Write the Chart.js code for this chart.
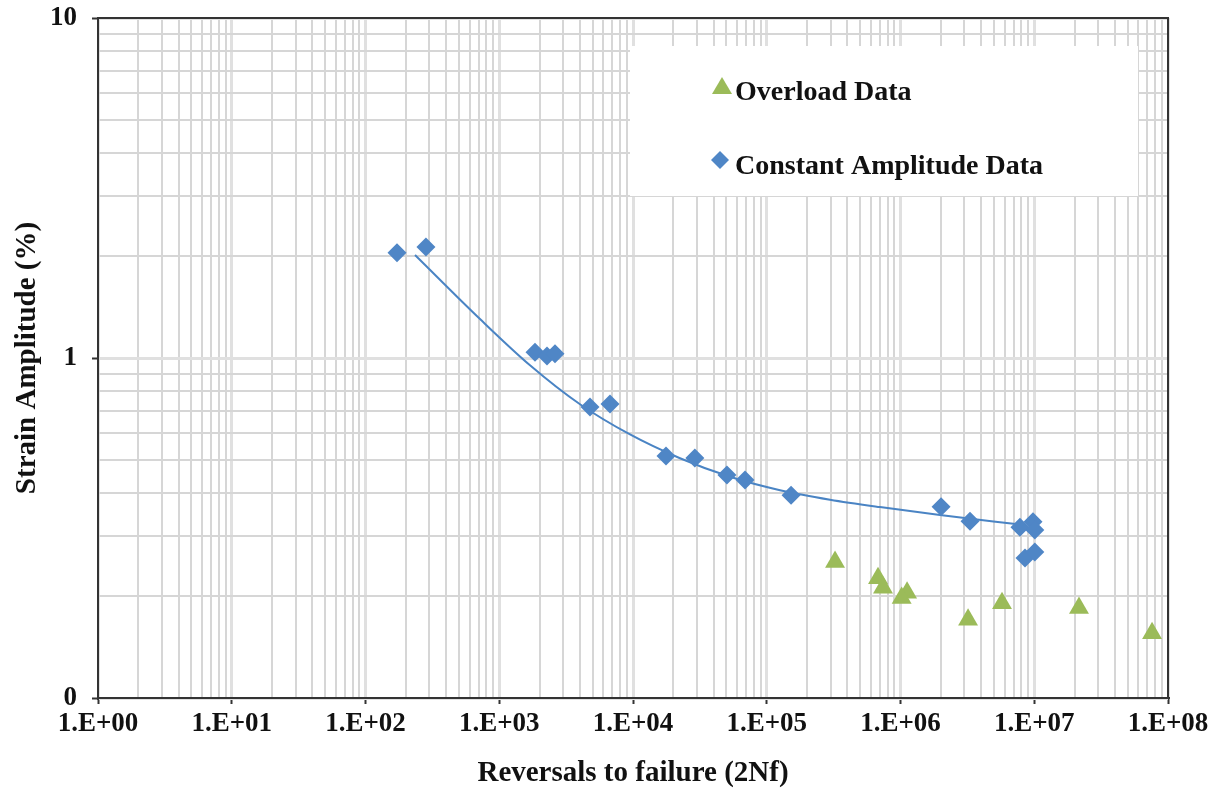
<!DOCTYPE html>
<html>
<head>
<meta charset="utf-8">
<script src="https://cdn.jsdelivr.net/npm/chart.js@4/dist/chart.umd.min.js"></script>
<style>
  html, body { margin: 0; padding: 0; background: #fff; }
  #wrap { width: 1224px; height: 795px; position: relative; }
</style>
</head>
<body>
<div id="wrap"><canvas id="c" width="1224" height="795"></canvas></div>
<script>
// ---- Data ----
const constantN = [172, 283, 1850, 2275, 2610, 4770, 6730, 17650, 29000, 50400, 68800, 152000, 2010000, 3310000, 7820000, 9790000, 10100000, 8530000, 10100000];
const constantS = [2.04, 2.12, 1.04, 1.014, 1.03, 0.718, 0.732, 0.515, 0.508, 0.453, 0.438, 0.395, 0.365, 0.331, 0.318, 0.330, 0.312, 0.258, 0.269];

const overloadN = [324000, 679000, 740000, 1120000, 1020000, 3200000, 5740000, 21600000, 76000000];
const overloadS = [0.251, 0.225, 0.211, 0.204, 0.197, 0.170, 0.190, 0.184, 0.155];

const trendN = [234.5, 718, 1698, 4015, 9497, 22460, 53120, 125700, 297100, 702600, 1974000, 7826000];
const trendS = [2.009, 1.302, 0.952, 0.731, 0.5957, 0.5072, 0.4473, 0.4084, 0.3830, 0.3643, 0.3455, 0.3237];

const xTickValues = [1, 10, 100, 1000, 10000, 100000, 1000000, 10000000, 100000000];
const xTickLabels = ['1.E+00', '1.E+01', '1.E+02', '1.E+03', '1.E+04', '1.E+05', '1.E+06', '1.E+07', '1.E+08'];
const yTickValues = [0.1, 1, 10];
const yTickLabels = ['0', '1', '10'];

const seriesNames = ['Overload Data', 'Constant Amplitude Data'];
const xTitle = 'Reversals to failure (2Nf)';
const yTitle = 'Strain Amplitude (%)';

// ---- Helpers ----
const BLUE = '#4F86C6';
const GREEN = '#9BBB59';
const FONT = '"Liberation Serif", "Times New Roman", serif';

function pairs(xs, ys) { return xs.map((x, i) => ({ x: x, y: ys[i] })); }
function logGridTicks(values) {
  const out = [];
  for (let i = 0; i < values.length - 1; i++) {
    for (let m = 1; m < 10; m++) out.push(Number((m * values[i]).toPrecision(12)));
  }
  out.push(values[values.length - 1]);
  return out.map(v => ({ value: v }));
}
function isDecade(v) {
  const l = Math.log10(v);
  return Math.abs(l - Math.round(l)) < 1e-9;
}
function labelFor(values, labels, v) {
  for (let i = 0; i < values.length; i++) {
    if (Math.abs(values[i] - v) / values[i] < 1e-9) return labels[i];
  }
  return '';
}
function gridOpts() {
  return {
    color: ctx => (ctx.tick && isDecade(ctx.tick.value)) ? '#e0e0e0' : '#d6d6d6',
    lineWidth: ctx => (ctx.tick && isDecade(ctx.tick.value)) ? 3 : 2,
    tickColor: ctx => (ctx.tick && isDecade(ctx.tick.value)) ? '#333' : 'rgba(0,0,0,0)',
    tickWidth: 2,
    tickLength: 6,
    drawTicks: true
  };
}

// ---- Plugins ----
const framePlugin = {
  id: 'frame',
  afterDatasetsDraw(chart) {
    const { ctx, chartArea: a } = chart;
    ctx.save();
    ctx.strokeStyle = '#333';
    ctx.lineWidth = 2;
    ctx.beginPath();
    ctx.moveTo(a.left, a.top);
    ctx.lineTo(a.right, a.top);
    ctx.lineTo(a.right, a.bottom);
    ctx.stroke();
    ctx.restore();
  }
};

const legendPlugin = {
  id: 'boxLegend',
  beforeDatasetsDraw(chart) {
    const ctx = chart.ctx;
    ctx.save();
    ctx.fillStyle = '#ffffff';
    ctx.fillRect(630, 46, 508, 150);
    // triangle marker
    ctx.fillStyle = GREEN;
    ctx.beginPath();
    ctx.moveTo(722, 77);
    ctx.lineTo(732, 94);
    ctx.lineTo(712, 94);
    ctx.closePath();
    ctx.fill();
    // diamond marker
    ctx.fillStyle = BLUE;
    ctx.beginPath();
    ctx.moveTo(720, 151);
    ctx.lineTo(729, 160);
    ctx.lineTo(720, 169);
    ctx.lineTo(711, 160);
    ctx.closePath();
    ctx.fill();
    ctx.fillStyle = '#111';
    ctx.font = 'bold 28px ' + FONT;
    ctx.textAlign = 'left';
    ctx.textBaseline = 'middle';
    ctx.fillText(seriesNames[0], 735, 93);
    ctx.fillText(seriesNames[1], 735, 167);
    ctx.restore();
  }
};

Chart.defaults.font.family = FONT;
Chart.defaults.font.weight = 'bold';
Chart.defaults.color = '#111';

new Chart(document.getElementById('c'), {
  type: 'scatter',
  data: {
    datasets: [
      {
        label: seriesNames[0],
        data: pairs(overloadN, overloadS),
        pointStyle: 'triangle',
        pointRadius: 11.5,
        pointHoverRadius: 11.5,
        backgroundColor: GREEN,
        borderColor: GREEN,
        borderWidth: 0
      },
      {
        label: seriesNames[1],
        data: pairs(constantN, constantS),
        pointStyle: 'rectRot',
        pointRadius: 9.5,
        pointHoverRadius: 9.5,
        backgroundColor: BLUE,
        borderColor: BLUE,
        borderWidth: 0
      },
      {
        label: 'Trend',
        data: pairs(trendN, trendS),
        showLine: true,
        pointRadius: 0,
        pointHoverRadius: 0,
        borderColor: '#4A84C4',
        borderWidth: 2,
        cubicInterpolationMode: 'monotone',
        fill: false
      }
    ]
  },
  options: {
    responsive: false,
    animation: false,
    events: [],
    layout: { padding: { top: 18, right: 56, left: 0, bottom: 0 } },
    plugins: {
      legend: { display: false },
      tooltip: { enabled: false },
      title: { display: false }
    },
    scales: {
      x: {
        type: 'logarithmic',
        min: 1,
        max: 100000000,
        afterBuildTicks: axis => { axis.ticks = logGridTicks(xTickValues); },
        afterFit: axis => { axis.height = 97; axis.paddingLeft = 0; axis.paddingRight = 0; },
        grid: gridOpts(),
        border: { display: true, color: '#333', width: 2 },
        ticks: {
          autoSkip: false,
          maxRotation: 0,
          minRotation: 0,
          padding: 4,
          font: { size: 27, weight: 'bold', family: FONT },
          color: '#111',
          callback: v => labelFor(xTickValues, xTickLabels, v)
        },
        title: {
          display: true,
          text: xTitle,
          font: { size: 29, weight: 'bold', family: FONT },
          color: '#111',
          padding: { top: 0, bottom: 4 }
        }
      },
      y: {
        type: 'logarithmic',
        min: 0.1,
        max: 10,
        afterBuildTicks: axis => { axis.ticks = logGridTicks(yTickValues); },
        afterFit: axis => { axis.width = 98; axis.paddingTop = 0; axis.paddingBottom = 0; },
        grid: gridOpts(),
        border: { display: true, color: '#333', width: 2 },
        ticks: {
          autoSkip: false,
          padding: 15,
          font: { size: 27, weight: 'bold', family: FONT },
          color: '#111',
          callback: v => labelFor(yTickValues, yTickLabels, v)
        },
        title: {
          display: true,
          text: yTitle,
          font: { size: 29, weight: 'bold', family: FONT },
          color: '#111',
          padding: { top: 10, bottom: 0 }
        }
      }
    }
  },
  plugins: [legendPlugin, framePlugin]
});
</script>
</body>
</html>
